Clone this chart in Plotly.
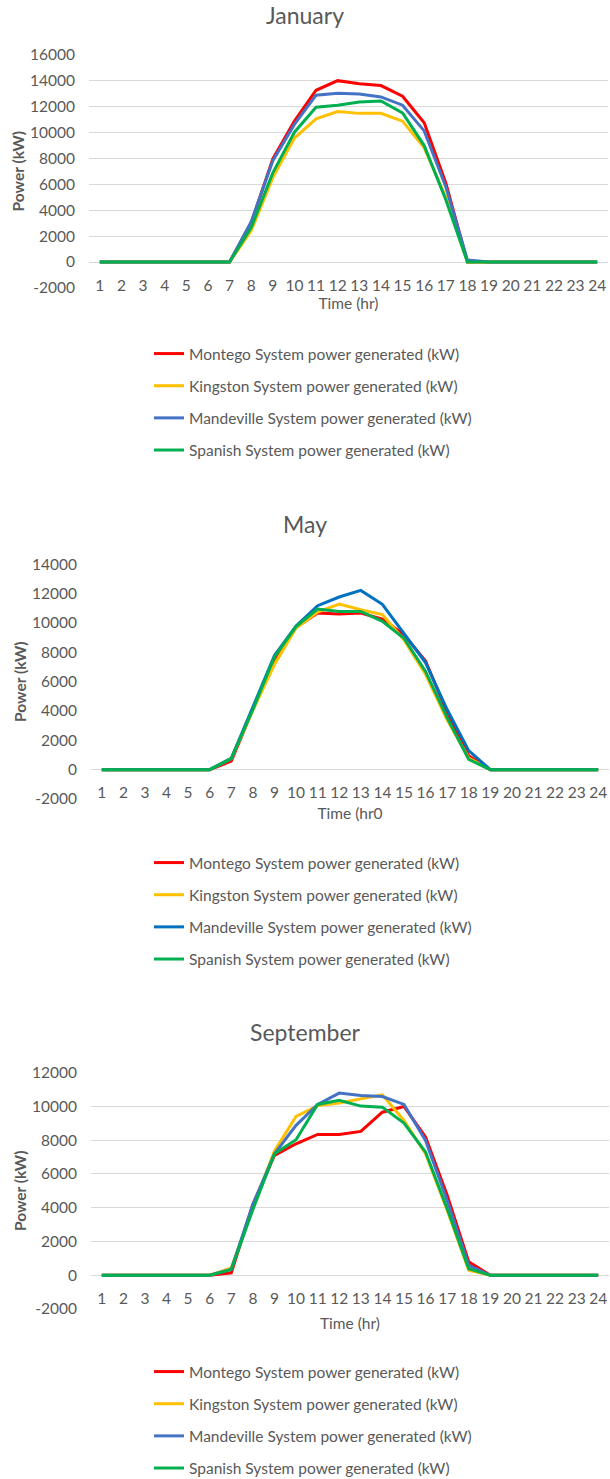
import plotly.graph_objects as go

hours = list(range(1, 25))
series_names = [
    "Montego System power generated (kW)",
    "Kingston System power generated (kW)",
    "Mandeville System power generated (kW)",
    "Spanish System power generated (kW)",
]

# January (kW)
jan_montego    = [0,0,0,0,0,0,0,3000,7950,10850,13230,13970,13740,13590,12770,10720,6100,0,0,0,0,0,0,0]
jan_kingston   = [0,0,0,0,0,0,0,2400,6500,9550,11030,11590,11450,11450,10850,8800,5000,0,0,0,0,0,0,0]
jan_mandeville = [0,0,0,0,0,0,0,3100,7800,10600,12850,13000,12950,12720,12080,10100,5800,150,0,0,0,0,0,0]
jan_spanish    = [0,0,0,0,0,0,0,2650,6870,10000,11920,12080,12330,12400,11490,8970,4800,0,0,0,0,0,0,0]

# May (kW)
may_montego    = [0,0,0,0,0,0,590,4100,7400,9700,10680,10610,10680,10270,9200,7400,3900,950,0,0,0,0,0,0]
may_kingston   = [0,0,0,0,0,0,750,4050,7170,9660,10750,11290,10900,10570,8850,6500,3400,790,0,0,0,0,0,0]
may_mandeville = [0,0,0,0,0,0,770,4300,7780,9800,11180,11770,12220,11270,9320,7300,4100,1300,0,0,0,0,0,0]
may_spanish    = [0,0,0,0,0,0,770,4100,7690,9750,10950,10790,10790,10110,8960,6700,3550,700,0,0,0,0,0,0]

# September (kW)
sep_montego    = [0,0,0,0,0,0,140,4200,7100,7790,8340,8340,8520,9660,10000,8190,4750,800,0,0,0,0,0,0]
sep_kingston   = [0,0,0,0,0,0,430,4000,7360,9410,10050,10200,10450,10690,9170,7200,3850,300,0,0,0,0,0,0]
sep_mandeville = [0,0,0,0,0,0,350,4200,7200,8880,10120,10790,10650,10590,10120,7990,4450,590,0,0,0,0,0,0]
sep_spanish    = [0,0,0,0,0,0,340,3900,7200,8030,10120,10360,10020,9960,9010,7300,3950,390,0,0,0,0,0,0]

months = ["January", "May", "September"]
month_axis_titles = ["Time (hr)", "Time (hr0", "Time (hr)"]
month_data = [
    [jan_montego, jan_kingston, jan_mandeville, jan_spanish],
    [may_montego, may_kingston, may_mandeville, may_spanish],
    [sep_montego, sep_kingston, sep_mandeville, sep_spanish],
]
y_ranges = [[-2000, 16000], [-2000, 14000], [-2000, 12000]]
y_step = 2000
month_colors = [
    ["#FF0000", "#FFC000", "#4472C4", "#00B050"],
    ["#FF0000", "#FFC000", "#0070C0", "#00B050"],
    ["#FF0000", "#FFC000", "#4472C4", "#00B050"],
]

# ---- layout geometry (pixels) ----
W, H = 610, 1479
plot_top_px = [54.3, 564.3, 1072.7]     # top of plot area
plot_bot_px = [288.0, 799.0, 1309.0]    # bottom of plot area
plot_left_px = [89.0, 91.0, 91.0]
plot_right_px = [608.0, 609.0, 609.0]
title_px = [15.0, 524.0, 1032.0]
legend_top_px = [337.0, 846.0, 1355.0]
xtitle_standoff = [5, 7, 12]
show_grid = [True, False, True]

FONT = "Lato"
GRAY = "#595959"
GRID = "#D9D9D9"


def pyy(p):
    return 1 - p / H


def pxx(p):
    return p / W


fig = go.Figure()
layout = dict(
    width=W, height=H,
    margin=dict(l=0, r=0, t=0, b=0, autoexpand=False),
    paper_bgcolor="white", plot_bgcolor="white",
    font=dict(family=FONT, color=GRAY, size=14),
    annotations=[],
)

for i, month in enumerate(months):
    xname = "x" if i == 0 else f"x{i+1}"
    yname = "y" if i == 0 else f"y{i+1}"
    lname = "legend" if i == 0 else f"legend{i+1}"
    for j, name in enumerate(series_names):
        fig.add_trace(go.Scatter(
            x=hours, y=month_data[i][j], name=name, mode="lines",
            line=dict(color=month_colors[i][j], width=3),
            xaxis=xname, yaxis=yname, legend=lname,
            legendgroup=f"{month}-{j}",
        ))

    ydom = [pyy(plot_bot_px[i]), pyy(plot_top_px[i])]
    lo, hi = y_ranges[i]
    yticks = list(range(lo, hi + 1, y_step))
    zero_px = plot_bot_px[i] - (0 - lo) / (hi - lo) * (plot_bot_px[i] - plot_top_px[i])

    layout["xaxis" if i == 0 else f"xaxis{i+1}"] = dict(
        domain=[pxx(plot_left_px[i]), pxx(plot_right_px[i])],
        range=[0.5, 24.5], tickmode="array", tickvals=hours,
        ticktext=[str(h) for h in hours],
        anchor="free", position=pyy(zero_px),
        showgrid=False, zeroline=False, showline=False,
        ticks="", ticklabelstandoff=12,
        tickfont=dict(size=15.5, color=GRAY, family=FONT),
        title=dict(text=month_axis_titles[i], standoff=xtitle_standoff[i],
                   font=dict(size=15.5, color=GRAY, family=FONT)),
        fixedrange=True,
    )
    layout["yaxis" if i == 0 else f"yaxis{i+1}"] = dict(
        domain=ydom, range=[lo, hi],
        tickmode="array", tickvals=yticks, ticktext=[str(v) for v in yticks],
        anchor=xname,
        showgrid=show_grid[i], gridcolor=GRID, gridwidth=1,
        zeroline=True, zerolinecolor=GRID, zerolinewidth=1,
        showline=False, ticks="", ticklabelstandoff=13,
        tickfont=dict(size=15.5, color=GRAY, family=FONT),
        title=dict(text="<b>Power (kW)</b>", standoff=1,
                   font=dict(size=15.5, color=GRAY, family=FONT)),
        fixedrange=True,
    )
    layout[lname] = dict(
        x=pxx(149), y=pyy(legend_top_px[i]), xanchor="left", yanchor="top",
        orientation="v", tracegroupgap=9, itemwidth=30,
        font=dict(size=15.5, color=GRAY, family=FONT),
        bgcolor="rgba(0,0,0,0)",
    )
    layout["annotations"].append(dict(
        text=month, x=0.5, y=pyy(title_px[i]), xref="paper", yref="paper",
        xanchor="center", yanchor="middle", showarrow=False,
        font=dict(size=23, color=GRAY, family=FONT),
    ))

fig.update_layout(**layout)
fig.write_html(
    "out.html",
    config={"displayModeBar": False},
    post_script="document.body.style.margin='0';document.body.style.padding='0';document.body.style.overflow='hidden';",
)
